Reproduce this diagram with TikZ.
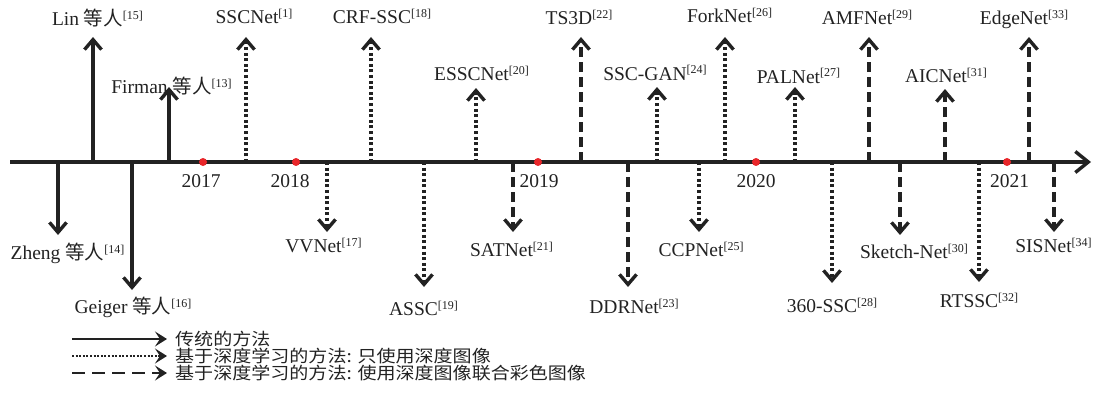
\documentclass[tikz,border=0pt]{standalone}
\usepackage{fontspec}
\setmainfont{Liberation Serif}
\newfontfamily\cjk{Noto Sans CJK SC}
\newfontfamily\cjkleg[FakeStretch=1.12]{Noto Sans CJK SC}
\usetikzlibrary{arrows.meta}
\definecolor{ink}{HTML}{222222}
\definecolor{dotred}{HTML}{E8262A}
\newcommand\refs[1]{\raisebox{6pt}{\fontsize{12}{12}\selectfont[#1]}}
\newcommand\dengren{{\cjk 等人}}
\tikzset{
  ev/.style={line width=3.2pt, draw=ink, -{Straight Barb[length=10pt,width=17pt,line width=3.4pt]}},
  solidev/.style={ev},
  dotev/.style={ev, dash pattern=on 3pt off 2.6pt},
  dashev/.style={ev, dash pattern=on 10pt off 5pt},
  lbl/.style={inner sep=0pt, anchor=base, text=ink, font=\fontsize{19.5}{22}\selectfont},
  yr/.style={lbl},
  reddot/.style={circle, fill=dotred, inner sep=0pt, minimum size=8pt},
  legline/.style={line width=2.6pt, draw=ink, -{Stealth[length=12pt,width=15pt,inset=5pt]}},
  legtxt/.style={inner sep=0pt, anchor=west, text=ink, font=\fontsize{17}{19}\cjkleg},
}
\begin{document}
\begin{tikzpicture}[x=1pt,y=-1pt]
\useasboundingbox (0,0) rectangle (1094,396);
% axis
\coordinate (ax0) at (10,162);
\coordinate (ax1) at (1091,162);
\draw[line width=3.2pt, draw=ink, -{Straight Barb[length=13pt,width=21pt,line width=3.4pt]}] (ax0) -- (ax1);
% years
\node[reddot] (d17) at (203,162) {};
\node[reddot] (d18) at (296,162) {};
\node[reddot] (d19) at (538,162) {};
\node[reddot] (d20) at (756,162) {};
\node[reddot] (d21) at (1007,162) {};
\node[yr] (y17) at (201,187) {2017};
\node[yr] (y18) at (290,187) {2018};
\node[yr] (y19) at (539,187) {2019};
\node[yr] (y20) at (756,187) {2020};
\node[yr] (y21) at (1009.5,187) {2021};
% ---- up arrows, top row
\coordinate (a-lin) at (93,162); \coordinate (t-lin) at (93,37);
\draw[solidev] (a-lin) -- (t-lin);
\node[lbl] (l-lin) at (97.5,26) {Lin \dengren\refs{15}};
\coordinate (a-ssc) at (246,162); \coordinate (t-ssc) at (246,37);
\draw[dotev] (a-ssc) -- (t-ssc);
\node[lbl] (l-ssc) at (254,24) {SSCNet\refs{1}};
\coordinate (a-crf) at (371,162); \coordinate (t-crf) at (371,37);
\draw[dotev] (a-crf) -- (t-crf);
\node[lbl] (l-crf) at (382,23.5) {CRF-SSC\refs{18}};
\coordinate (a-ts3d) at (581,162); \coordinate (t-ts3d) at (581,37);
\draw[dashev] (a-ts3d) -- (t-ts3d);
\node[lbl] (l-ts3d) at (579,25) {TS3D\refs{22}};
\coordinate (a-fork) at (725,162); \coordinate (t-fork) at (725,37);
\draw[dotev] (a-fork) -- (t-fork);
\node[lbl] (l-fork) at (729.5,22.5) {ForkNet\refs{26}};
\coordinate (a-amf) at (869,162); \coordinate (t-amf) at (869,37);
\draw[dashev] (a-amf) -- (t-amf);
\node[lbl] (l-amf) at (867,25) {AMFNet\refs{29}};
\coordinate (a-edge) at (1029,162); \coordinate (t-edge) at (1029,37);
\draw[dashev] (a-edge) -- (t-edge);
\node[lbl] (l-edge) at (1024,25) {EdgeNet\refs{33}};
% ---- up arrows, second row
\coordinate (a-firm) at (169,162); \coordinate (t-firm) at (169,87);
\draw[solidev] (a-firm) -- (t-firm);
\node[lbl] (l-firm) at (171.5,93) {Firman \dengren\refs{13}};
\coordinate (a-essc) at (476,162); \coordinate (t-essc) at (476,88);
\draw[dotev] (a-essc) -- (t-essc);
\node[lbl] (l-essc) at (481.5,81) {ESSCNet\refs{20}};
\coordinate (a-gan) at (657,162); \coordinate (t-gan) at (657,87);
\draw[dotev] (a-gan) -- (t-gan);
\node[lbl] (l-gan) at (655,80) {SSC-GAN\refs{24}};
\coordinate (a-pal) at (795,162); \coordinate (t-pal) at (795,87);
\draw[dotev] (a-pal) -- (t-pal);
\node[lbl] (l-pal) at (798.5,83) {PALNet\refs{27}};
\coordinate (a-aic) at (945,162); \coordinate (t-aic) at (945,89);
\draw[dashev] (a-aic) -- (t-aic);
\node[lbl] (l-aic) at (946,82) {AICNet\refs{31}};
% ---- down arrows
\coordinate (a-zheng) at (58,162); \coordinate (t-zheng) at (58,235);
\draw[solidev] (a-zheng) -- (t-zheng);
\node[lbl] (l-zheng) at (67.5,259) {Zheng \dengren\refs{14}};
\coordinate (a-geig) at (132,162); \coordinate (t-geig) at (132,290);
\draw[solidev] (a-geig) -- (t-geig);
\node[lbl] (l-geig) at (133,313) {Geiger \dengren\refs{16}};
\coordinate (a-vv) at (327,162); \coordinate (t-vv) at (327,232);
\draw[dotev] (a-vv) -- (t-vv);
\node[lbl] (l-vv) at (323.5,252) {VVNet\refs{17}};
\coordinate (a-assc) at (424,162); \coordinate (t-assc) at (424,287);
\draw[dotev] (a-assc) -- (t-assc);
\node[lbl] (l-assc) at (423.5,315) {ASSC\refs{19}};
\coordinate (a-sat) at (513,162); \coordinate (t-sat) at (513,232);
\draw[dashev] (a-sat) -- (t-sat);
\node[lbl] (l-sat) at (511.5,256) {SATNet\refs{21}};
\coordinate (a-ddr) at (628,162); \coordinate (t-ddr) at (628,287);
\draw[dashev] (a-ddr) -- (t-ddr);
\node[lbl] (l-ddr) at (634,313) {DDRNet\refs{23}};
\coordinate (a-ccp) at (699,162); \coordinate (t-ccp) at (699,232);
\draw[dotev] (a-ccp) -- (t-ccp);
\node[lbl] (l-ccp) at (701,256) {CCPNet\refs{25}};
\coordinate (a-360) at (832,162); \coordinate (t-360) at (832,283);
\draw[dotev] (a-360) -- (t-360);
\node[lbl] (l-360) at (832,312) {360-SSC\refs{28}};
\coordinate (a-sk) at (900,162); \coordinate (t-sk) at (900,235);
\draw[dashev] (a-sk) -- (t-sk);
\node[lbl] (l-sk) at (914,258) {Sketch-Net\refs{30}};
\coordinate (a-rt) at (979,162); \coordinate (t-rt) at (979,282);
\draw[dotev] (a-rt) -- (t-rt);
\node[lbl] (l-rt) at (979,307) {RTSSC\refs{32}};
\coordinate (a-sis) at (1054,162); \coordinate (t-sis) at (1054,232);
\draw[dashev] (a-sis) -- (t-sis);
\node[lbl] (l-sis) at (1053.5,252) {SISNet\refs{34}};
% ---- legend
\coordinate (g1a) at (72,339); \coordinate (g1b) at (167,339);
\coordinate (g2a) at (72,356); \coordinate (g2b) at (167,356);
\coordinate (g3a) at (72,373); \coordinate (g3b) at (167,373);
\draw[legline] (g1a) -- (g1b);
\draw[legline, dash pattern=on 2pt off 1.6pt] (g2a) -- (g2b);
\draw[legline, dash pattern=on 13pt off 7pt] (g3a) -- (g3b);
\node[legtxt] (t1) at (175,339) {传统的方法};
\node[legtxt] (t2) at (175,356) {基于深度学习的方法: 只使用深度图像};
\node[legtxt] (t3) at (175,373) {基于深度学习的方法: 使用深度图像联合彩色图像};
\end{tikzpicture}
\end{document}
